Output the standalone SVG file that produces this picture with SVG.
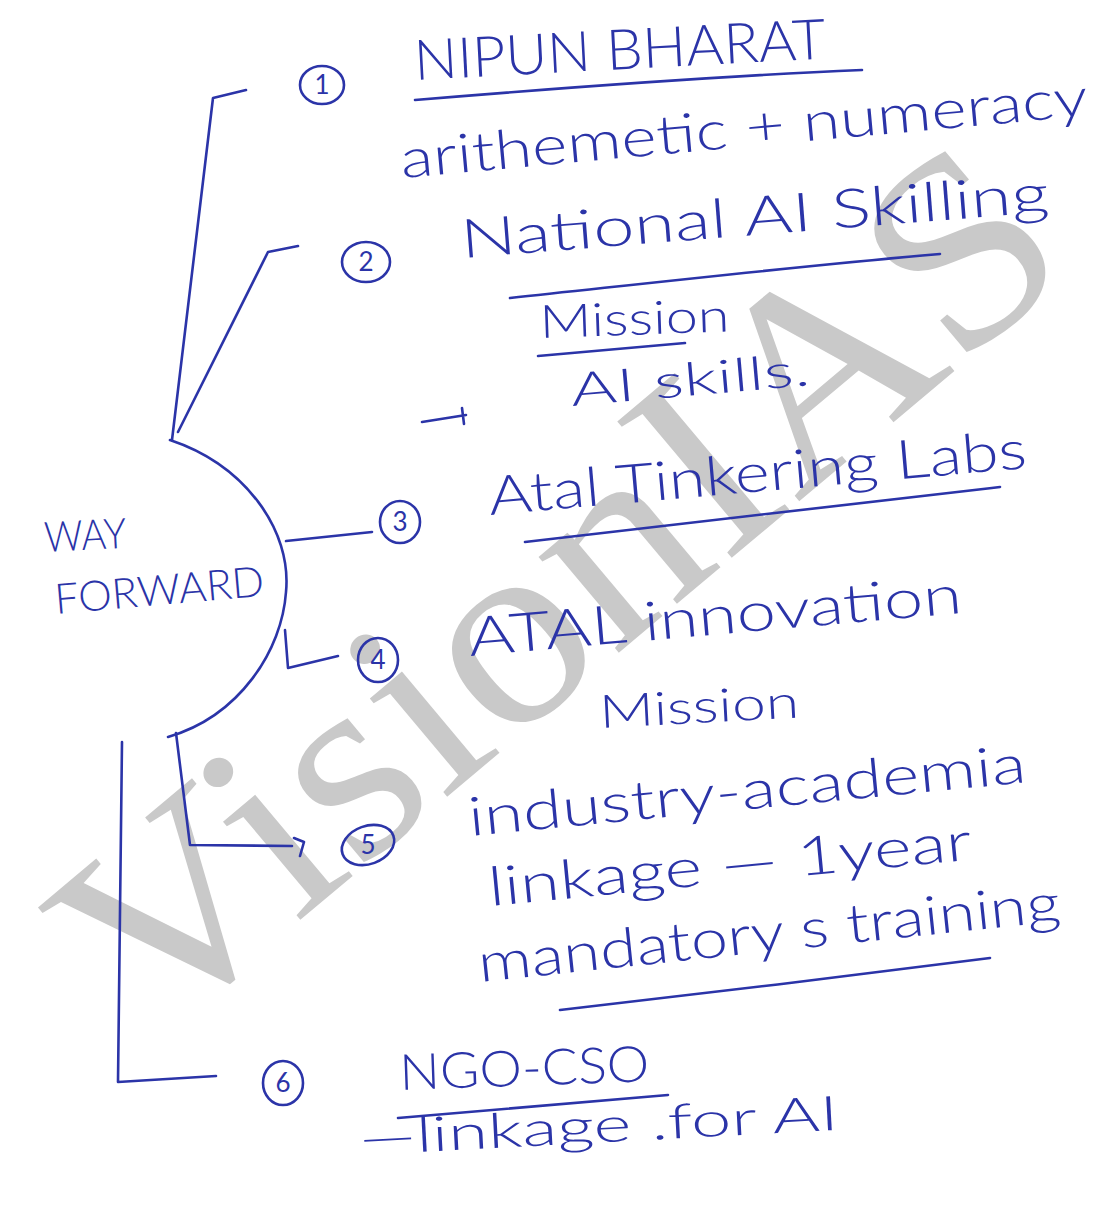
<svg xmlns="http://www.w3.org/2000/svg" width="1099" height="1210" viewBox="0 0 1099 1210">
  <style>
    .ink { fill: none; stroke: #2b34a8; stroke-width: 2.6; stroke-linecap: round; stroke-linejoin: round; }
    .txt { fill: #2b34a8; font-family: "Lato", "Liberation Sans", "DejaVu Sans", sans-serif; font-weight: 300; }
    .num { fill: #2b34a8; font-family: "Lato", "Liberation Sans", sans-serif; font-size: 26px; text-anchor: middle; }
    .mark { fill: #c9c9c9; font-family: "Liberation Serif", "DejaVu Serif", serif; }
  </style>
  <rect width="1099" height="1210" fill="#ffffff"/>

  <!-- background watermark -->
  <text class="mark" font-size="272" transform="translate(150,1046) rotate(-40)" textLength="1212" lengthAdjust="spacingAndGlyphs">VisionIAS</text>

  <!-- connectors from the central node -->
  <g id="connectors">
    <path class="ink" d="M172,440 L213,98 L246,90"/>
    <path class="ink" d="M178,432 L268,252 L298,246"/>
    <path class="ink" d="M286,541 L372,532"/>
    <path class="ink" d="M285,630 L288,668 L338,656"/>
    <path class="ink" d="M176,733 L190,845 L292,846 M294,838 L304,842 L300,856"/>
    <path class="ink" d="M122,742 L118,1082 L216,1076"/>
    <path class="ink" d="M422,422 L466,415 M462,408 L464,424"/>
  </g>

  <!-- central node -->
  <g id="node-way-forward">
    <path class="ink" d="M170,440 C245,465 292,530 286,592 C282,650 240,716 168,737"/>
    <text class="txt" font-size="42" transform="translate(45,552) rotate(-3)" textLength="82" lengthAdjust="spacingAndGlyphs">WAY</text>
    <text class="txt" font-size="42" transform="translate(56,614) rotate(-5)" textLength="210" lengthAdjust="spacingAndGlyphs">FORWARD</text>
  </g>

  <!-- item 1 -->
  <g id="node-1">
    <ellipse class="ink" cx="322" cy="85" rx="22" ry="19"/>
    <text class="num" x="322" y="94">1</text>
    <text class="txt" font-size="56" transform="translate(415,80) rotate(-3)" textLength="412" lengthAdjust="spacingAndGlyphs">NIPUN BHARAT</text>
    <path class="ink" d="M415,100 C560,88 720,76 862,70"/>
    <text class="txt" font-size="54" transform="translate(402,178) rotate(-5.2)" textLength="690" lengthAdjust="spacingAndGlyphs">arithemetic + numeracy</text>
  </g>

  <!-- item 2 -->
  <g id="node-2">
    <ellipse class="ink" cx="366" cy="262" rx="24" ry="20"/>
    <text class="num" x="366" y="271">2</text>
    <text class="txt" font-size="54" transform="translate(462,258) rotate(-4.5)" textLength="590" lengthAdjust="spacingAndGlyphs">National AI Skilling</text>
    <path class="ink" d="M510,298 C660,282 800,266 940,254"/>
    <text class="txt" font-size="46" transform="translate(540,338) rotate(-2)" textLength="190" lengthAdjust="spacingAndGlyphs">Mission</text>
    <path class="ink" d="M538,356 L685,343"/>
    <text class="txt" font-size="46" transform="translate(572,406) rotate(-5)" textLength="240" lengthAdjust="spacingAndGlyphs">AI skills.</text>
  </g>

  <!-- item 3 -->
  <g id="node-3">
    <ellipse class="ink" cx="400" cy="522" rx="20" ry="21"/>
    <text class="num" x="400" y="531">3</text>
    <text class="txt" font-size="54" transform="translate(490,515) rotate(-5)" textLength="540" lengthAdjust="spacingAndGlyphs">Atal Tinkering Labs</text>
    <path class="ink" d="M525,542 C680,524 840,505 1000,487"/>
  </g>

  <!-- item 4 -->
  <g id="node-4">
    <ellipse class="ink" cx="378" cy="660" rx="20" ry="22"/>
    <text class="num" x="378" y="669">4</text>
    <text class="txt" font-size="54" transform="translate(470,656) rotate(-5)" textLength="495" lengthAdjust="spacingAndGlyphs">ATAL innovation</text>
    <text class="txt" font-size="46" transform="translate(600,728) rotate(-3)" textLength="200" lengthAdjust="spacingAndGlyphs">Mission</text>
  </g>

  <!-- item 5 -->
  <g id="node-5">
    <ellipse class="ink" cx="368" cy="845" rx="27" ry="19" transform="rotate(-20 368 845)"/>
    <text class="num" x="368" y="854">5</text>
    <text class="txt" font-size="54" transform="translate(470,836) rotate(-5.5)" textLength="560" lengthAdjust="spacingAndGlyphs">industry-academia</text>
    <text class="txt" font-size="54" transform="translate(490,906) rotate(-5.5)" textLength="485" lengthAdjust="spacingAndGlyphs">linkage — 1year</text>
    <text class="txt" font-size="54" transform="translate(480,982) rotate(-6)" textLength="585" lengthAdjust="spacingAndGlyphs">mandatory s training</text>
    <path class="ink" d="M560,1010 C700,994 850,976 990,958"/>
  </g>

  <!-- item 6 -->
  <g id="node-6">
    <ellipse class="ink" cx="283" cy="1083" rx="20" ry="22"/>
    <text class="num" x="283" y="1092">6</text>
    <text class="txt" font-size="50" transform="translate(400,1090) rotate(-2)" textLength="250" lengthAdjust="spacingAndGlyphs">NGO-CSO</text>
    <path class="ink" d="M398,1118 C490,1110 580,1102 668,1095"/>
    <text class="txt" font-size="48" transform="translate(360,1155) rotate(-3)" textLength="480" lengthAdjust="spacingAndGlyphs">—linkage .for AI</text>
  </g>
</svg>
